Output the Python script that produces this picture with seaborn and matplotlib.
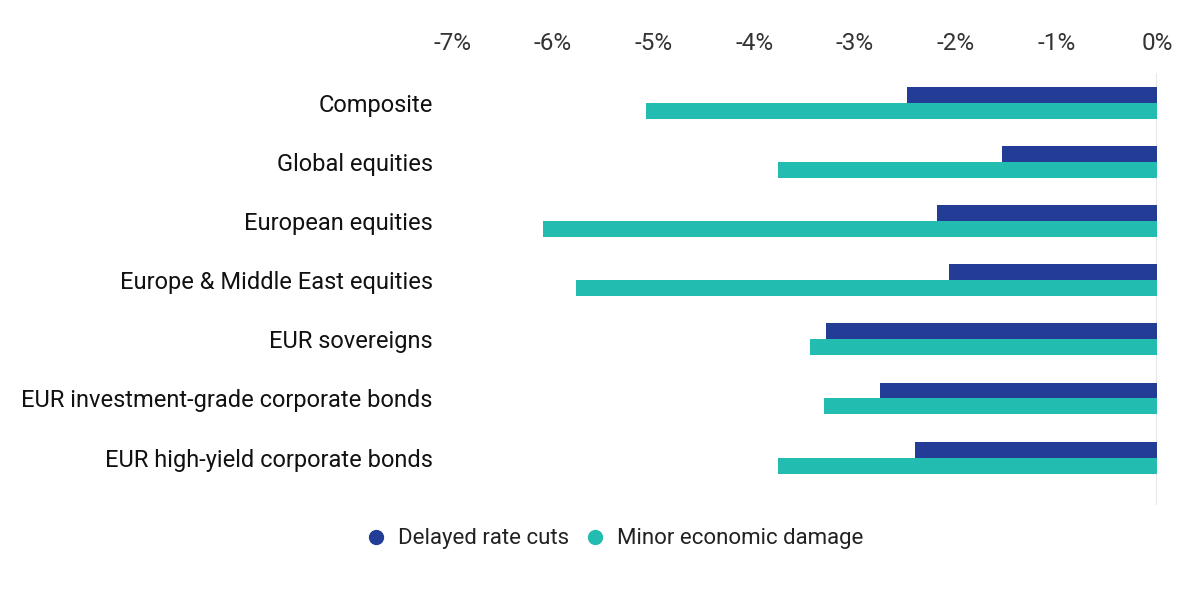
import matplotlib
matplotlib.use("Agg")
import matplotlib.pyplot as plt
import seaborn as sns
import pandas as pd
from matplotlib.lines import Line2D
from matplotlib.ticker import FuncFormatter, MultipleLocator

categories = [
    "Composite",
    "Global equities",
    "European equities",
    "Europe & Middle East equities",
    "EUR sovereigns",
    "EUR investment-grade corporate bonds",
    "EUR high-yield corporate bonds",
]
delayed_rate_cuts = [-2.48, -1.54, -2.18, -2.07, -3.29, -2.75, -2.40]
minor_economic_damage = [-5.07, -3.76, -6.10, -5.77, -3.45, -3.31, -3.76]
series_names = ["Delayed rate cuts", "Minor economic damage"]
colors = ["#233D96", "#22BDB0"]

df = pd.DataFrame({
    "category": categories * 2,
    "value": delayed_rate_cuts + minor_economic_damage,
    "scenario": [series_names[0]] * len(categories) + [series_names[1]] * len(categories),
})

sns.set_theme(style="white")
plt.rcParams["font.family"] = ["Roboto", "DejaVu Sans"]

fig = plt.figure(figsize=(12, 6), dpi=100)
ax = fig.add_axes([0.3767, 0.1583, 0.5875, 0.72])

sns.barplot(
    data=df, y="category", x="value", hue="scenario", orient="h",
    palette=colors, width=0.54, gap=0, linewidth=0, saturation=1,
    legend=False, ax=ax, order=categories, hue_order=series_names,
)

ax.set_xlim(-7, 0)
ax.set_ylim(6.8, -0.5)
ax.xaxis.set_major_locator(MultipleLocator(1))
ax.xaxis.set_major_formatter(FuncFormatter(lambda v, p: f"{int(round(v))}%".replace("\u2212", "-")))
ax.xaxis.tick_top()
ax.tick_params(axis="x", length=0, pad=13, labelsize=17.5, labelcolor="#333333")
ax.tick_params(axis="y", length=0, pad=14, labelsize=17, labelcolor="#111111")
ax.set_xlabel("")
ax.set_ylabel("")
for s in ax.spines.values():
    s.set_visible(False)
ax.axvline(0, color="#e3e3e3", lw=1.2, zorder=0)
ax.grid(False)

handles = [
    Line2D([0], [0], marker="o", linestyle="", markersize=10,
           markerfacecolor=c, markeredgecolor=c, label=n)
    for c, n in zip(colors, series_names)
]
fig.legend(handles=handles, loc="center", bbox_to_anchor=(0.507, 0.102), ncol=2,
           frameon=False, fontsize=16, handletextpad=0.0, columnspacing=0.15,
           labelcolor="#222222")

fig.savefig("out.png", dpi=100, facecolor="white")
